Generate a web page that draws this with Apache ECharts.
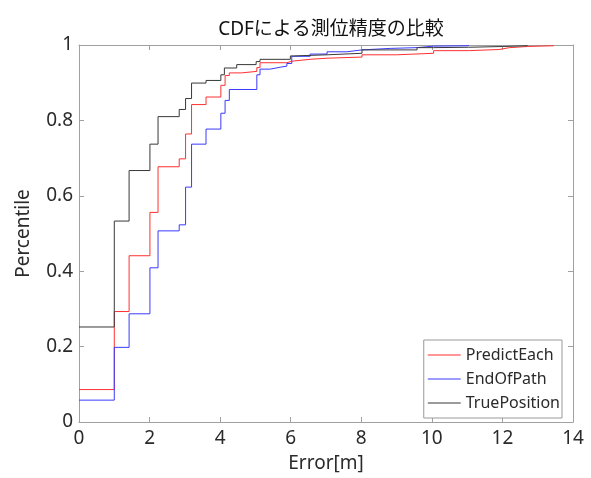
<!DOCTYPE html>
<html>
<head>
<meta charset="utf-8">
<script src="https://cdn.jsdelivr.net/npm/echarts@6/dist/echarts.min.js"></script>
<style>
  html, body { margin: 0; padding: 0; background: #fff; }
  #chart { width: 591px; height: 478px; }
</style>
</head>
<body>
<div id="chart"></div>
<script>
// step breakpoints (x in m, y = cumulative fraction)
var predictX = [0, 1.0, 1.42, 2.01, 2.24, 2.84, 3.02, 3.19, 3.60, 4.02, 4.14, 4.26, 4.60, 5.04, 5.13, 5.89, 6.03, 6.55, 7.03, 8.02, 9.0, 10.05, 11.04, 11.9, 12.2, 12.7, 13.45];
var predictY = [0.086, 0.293, 0.441, 0.556, 0.677, 0.698, 0.764, 0.842, 0.862, 0.893, 0.919, 0.926, 0.930, 0.940, 0.953, 0.957, 0.962, 0.965, 0.968, 0.974, 0.978, 0.985, 0.988, 0.993, 0.996, 0.998, 1.0];

var endPathX = [0, 1.0, 1.42, 2.01, 2.24, 2.84, 3.02, 3.19, 3.60, 4.02, 4.14, 4.26, 5.04, 5.13, 5.42, 5.70, 5.89, 6.03, 6.55, 7.03, 7.59, 8.02, 8.82, 9.58, 10.05, 11.04];
var endPathY = [0.058, 0.198, 0.287, 0.409, 0.507, 0.523, 0.623, 0.737, 0.777, 0.819, 0.853, 0.882, 0.921, 0.936, 0.941, 0.944, 0.951, 0.970, 0.976, 0.982, 0.987, 0.991, 0.993, 0.997, 0.998, 1.0];

var trueX = [0, 1.0, 1.42, 2.01, 2.24, 2.84, 3.02, 3.19, 3.60, 4.02, 4.12, 4.47, 5.02, 5.13, 5.99, 6.08, 7.03, 8.02, 9.58, 10.05, 11.04, 12.0, 12.7];
var trueY = [0.252, 0.533, 0.667, 0.737, 0.810, 0.829, 0.858, 0.899, 0.906, 0.921, 0.939, 0.948, 0.956, 0.962, 0.971, 0.974, 0.978, 0.987, 0.993, 0.994, 0.996, 0.998, 1.0];

var seriesNames = ["PredictEach", "EndOfPath", "TruePosition"];
var colors = ["#ff3030", "#3a3aff", "#383838"];

function pairs(xs, ys) {
  return xs.map(function (x, i) { return [x, ys[i]]; });
}

var font = "'Noto Sans', 'Noto Sans CJK JP', sans-serif";
var axisColor = "#a0a0a0";
var textColor = "#2a2a2a";

var chart = echarts.init(document.getElementById("chart"));

function axisBase(extra) {
  var a = {
    type: "value",
    axisLine: { show: true, onZero: false, lineStyle: { color: axisColor, width: 1 } },
    axisTick: { show: true, inside: true, length: 5, lineStyle: { color: axisColor } },
    splitLine: { show: false },
    axisLabel: { show: false }
  };
  return Object.assign(a, extra);
}

var option = {
  animation: false,
  backgroundColor: "#fff",
  title: {
    text: "CDFによる測位精度の比較",
    left: 326,
    textAlign: "center",
    top: 15,
    textStyle: { fontFamily: font, fontSize: 19, fontWeight: "normal", color: "#111" }
  },
  grid: { left: 79, right: 18, top: 45, bottom: 52 },
  xAxis: [
    axisBase({
      min: 0, max: 14, interval: 2, position: "bottom",
      name: "Error[m]", nameLocation: "middle", nameGap: 32,
      nameTextStyle: { fontFamily: font, fontSize: 19, color: textColor },
      axisLabel: { show: true, margin: 7, fontFamily: font, fontSize: 19, color: textColor }
    }),
    axisBase({ min: 0, max: 14, interval: 2, position: "top" })
  ],
  yAxis: [
    axisBase({
      min: 0, max: 1, interval: 0.2, position: "left",
      name: "Percentile", nameLocation: "middle", nameGap: 46,
      nameTextStyle: { fontFamily: font, fontSize: 19, color: textColor },
      axisLabel: { show: true, margin: 6, fontFamily: font, fontSize: 19, color: textColor }
    }),
    axisBase({ min: 0, max: 1, interval: 0.2, position: "right" })
  ],
  legend: {
    data: seriesNames,
    orient: "vertical",
    right: 29,
    top: 340,
    icon: "rect",
    itemWidth: 33,
    itemHeight: 1,
    itemGap: 8,
    padding: [7, 2, 7, 4],
    borderColor: "#999",
    borderWidth: 1,
    backgroundColor: "#fff",
    textStyle: { fontFamily: font, fontSize: 16, color: textColor }
  },
  series: seriesNames.map(function (name, i) {
    var xs = [predictX, endPathX, trueX][i];
    var ys = [predictY, endPathY, trueY][i];
    return {
      name: name, type: "line", step: "end", symbol: "none",
      data: pairs(xs, ys),
      lineStyle: { color: colors[i], width: 1 },
      itemStyle: { color: colors[i] }
    };
  })
};

chart.setOption(option);
</script>
</body>
</html>
